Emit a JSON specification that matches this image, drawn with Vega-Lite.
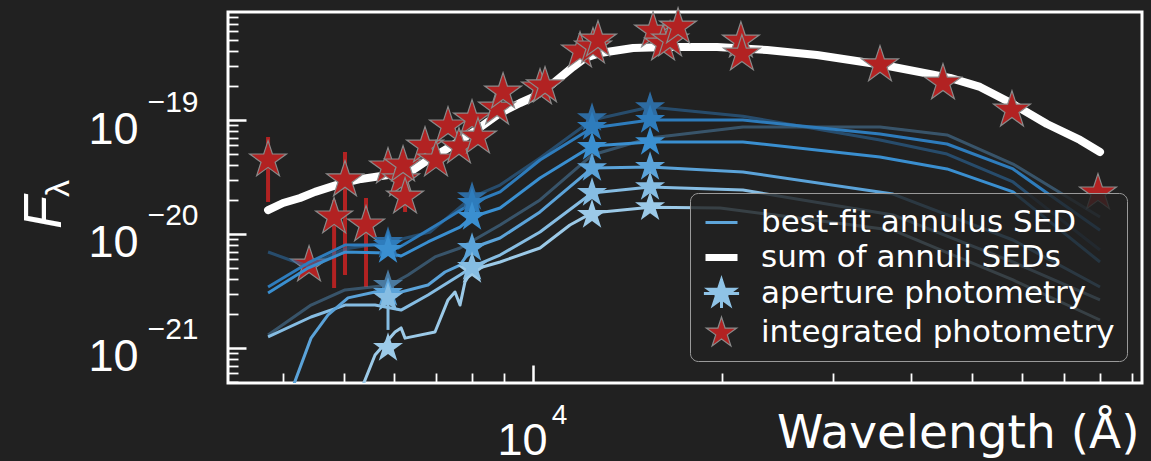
{
  "$schema": "https://vega.github.io/schema/vega-lite/v6.json",
  "width": 914,
  "height": 371,
  "autosize": "none",
  "padding": {"left": 228, "top": 12, "right": 9, "bottom": 78},
  "background": "#212121",
  "config": {
    "view": {"stroke": "#ffffff", "strokeWidth": 3, "fill": "#212121"},
    "font": "Liberation Sans",
    "axis": {"labelFont": "Liberation Sans", "titleFont": "Liberation Sans"}
  },
  "datasets": {
    "sum": [
      {"wl": 3785, "f": 1.62e-20}, {"wl": 3999, "f": 1.87e-20}, {"wl": 4256, "f": 2.07e-20},
      {"wl": 4497, "f": 2.34e-20}, {"wl": 4929, "f": 2.75e-20}, {"wl": 5323, "f": 3.04e-20},
      {"wl": 5876, "f": 3.29e-20}, {"wl": 6440, "f": 3.64e-20}, {"wl": 6804, "f": 4.46e-20},
      {"wl": 7376, "f": 5.80e-20}, {"wl": 8084, "f": 8.01e-20}, {"wl": 8862, "f": 1.15e-19},
      {"wl": 9535, "f": 1.41e-19}, {"wl": 10000, "f": 1.59e-19}, {"wl": 10450, "f": 1.83e-19},
      {"wl": 10920, "f": 2.24e-19}, {"wl": 11580, "f": 2.92e-19}, {"wl": 12100, "f": 3.50e-19},
      {"wl": 12790, "f": 3.87e-19}, {"wl": 14430, "f": 4.28e-19}, {"wl": 16350, "f": 4.37e-19},
      {"wl": 19640, "f": 4.37e-19}, {"wl": 23590, "f": 4.11e-19}, {"wl": 28330, "f": 3.72e-19},
      {"wl": 36080, "f": 3.04e-19}, {"wl": 46130, "f": 2.34e-19}, {"wl": 51500, "f": 1.95e-19},
      {"wl": 58120, "f": 1.38e-19}, {"wl": 65830, "f": 9.22e-20}, {"wl": 74310, "f": 6.68e-20},
      {"wl": 79960, "f": 5.24e-20}
    ],
    "lines": [
      {"ann": "A", "wl": 3785, "f": 6.95e-21}, {"ann": "A", "wl": 4103, "f": 5.91e-21}, {"ann": "A", "wl": 4383, "f": 5.24e-21},
      {"ann": "A", "wl": 5019, "f": 7.39e-21}, {"ann": "A", "wl": 5920, "f": 8.51e-21}, {"ann": "A", "wl": 6854, "f": 1.04e-20},
      {"ann": "A", "wl": 7996, "f": 2.11e-20}, {"ann": "A", "wl": 8862, "f": 2.69e-20}, {"ann": "A", "wl": 10260, "f": 4.64e-20},
      {"ann": "A", "wl": 12415, "f": 1.0e-19}, {"ann": "A", "wl": 15360, "f": 1.3e-19}, {"ann": "A", "wl": 21590, "f": 1.08e-19},
      {"ann": "A", "wl": 35690, "f": 6.68e-20}, {"ann": "A", "wl": 45630, "f": 5.03e-20}, {"ann": "A", "wl": 58120, "f": 2.86e-20},
      {"ann": "A", "wl": 79960, "f": 7.24e-21},
      {"ann": "B", "wl": 3785, "f": 3.43e-21}, {"ann": "B", "wl": 4383, "f": 5.57e-21}, {"ann": "B", "wl": 5019, "f": 8.01e-21},
      {"ann": "B", "wl": 5603, "f": 8.01e-21}, {"ann": "B", "wl": 6096, "f": 7.54e-21}, {"ann": "B", "wl": 6488, "f": 9.22e-21},
      {"ann": "B", "wl": 7137, "f": 1.27e-20}, {"ann": "B", "wl": 7996, "f": 1.87e-20}, {"ann": "B", "wl": 8862, "f": 2.34e-20},
      {"ann": "B", "wl": 10260, "f": 4.46e-20}, {"ann": "B", "wl": 12415, "f": 8.51e-20}, {"ann": "B", "wl": 15360, "f": 1.0e-19},
      {"ann": "B", "wl": 21590, "f": 1.0e-19}, {"ann": "B", "wl": 35690, "f": 7.54e-20}, {"ann": "B", "wl": 45630, "f": 6.16e-20},
      {"ann": "B", "wl": 58120, "f": 3.72e-20}, {"ann": "B", "wl": 79960, "f": 1.08e-20},
      {"ann": "C", "wl": 3785, "f": 1.30e-21}, {"ann": "C", "wl": 4431, "f": 2.38e-21}, {"ann": "C", "wl": 5019, "f": 3.23e-21},
      {"ann": "C", "wl": 5920, "f": 3.57e-21}, {"ann": "C", "wl": 6324, "f": 4.37e-21}, {"ann": "C", "wl": 6981, "f": 6.29e-21},
      {"ann": "C", "wl": 7651, "f": 7.54e-21}, {"ann": "C", "wl": 8862, "f": 1.2e-20}, {"ann": "C", "wl": 10260, "f": 1.99e-20},
      {"ann": "C", "wl": 12415, "f": 4.93e-20}, {"ann": "C", "wl": 15360, "f": 6.95e-20}, {"ann": "C", "wl": 21590, "f": 8.68e-20},
      {"ann": "C", "wl": 35690, "f": 8.68e-20}, {"ann": "C", "wl": 45630, "f": 7.39e-20}, {"ann": "C", "wl": 58120, "f": 4.11e-20},
      {"ann": "C", "wl": 79960, "f": 1.41e-20},
      {"ann": "D", "wl": 3785, "f": 3.04e-21}, {"ann": "D", "wl": 4383, "f": 5.03e-21}, {"ann": "D", "wl": 5019, "f": 6.95e-21},
      {"ann": "D", "wl": 5876, "f": 6.81e-21}, {"ann": "D", "wl": 6164, "f": 6.41e-21}, {"ann": "D", "wl": 6804, "f": 8.51e-21},
      {"ann": "D", "wl": 7651, "f": 1.15e-20}, {"ann": "D", "wl": 7996, "f": 1.41e-20}, {"ann": "D", "wl": 8862, "f": 1.69e-20},
      {"ann": "D", "wl": 10260, "f": 3.10e-20}, {"ann": "D", "wl": 12415, "f": 5.91e-20}, {"ann": "D", "wl": 15360, "f": 6.41e-20},
      {"ann": "D", "wl": 21590, "f": 6.41e-20}, {"ann": "D", "wl": 35690, "f": 4.74e-20}, {"ann": "D", "wl": 45630, "f": 3.72e-20},
      {"ann": "D", "wl": 58120, "f": 2.34e-20}, {"ann": "D", "wl": 79960, "f": 5.68e-21},
      {"ann": "E", "wl": 3785, "f": 1.25e-21}, {"ann": "E", "wl": 4431, "f": 1.87e-21}, {"ann": "E", "wl": 5019, "f": 2.38e-21},
      {"ann": "E", "wl": 5603, "f": 2.38e-21}, {"ann": "E", "wl": 6164, "f": 2.15e-21}, {"ann": "E", "wl": 6804, "f": 2.92e-21},
      {"ann": "E", "wl": 7651, "f": 4.37e-21}, {"ann": "E", "wl": 7996, "f": 5.14e-21}, {"ann": "E", "wl": 8862, "f": 6.54e-21},
      {"ann": "E", "wl": 10260, "f": 1.04e-20}, {"ann": "E", "wl": 12415, "f": 2.29e-20}, {"ann": "E", "wl": 15360, "f": 2.58e-20},
      {"ann": "E", "wl": 21590, "f": 2.43e-20}, {"ann": "E", "wl": 37430, "f": 1.47e-20}, {"ann": "E", "wl": 58120, "f": 5.68e-21},
      {"ann": "E", "wl": 79960, "f": 2.64e-21},
      {"ann": "F", "wl": 4073, "f": 3.5e-22}, {"ann": "F", "wl": 4431, "f": 1.22e-21}, {"ann": "F", "wl": 4716, "f": 1.95e-21},
      {"ann": "F", "wl": 5075, "f": 2.75e-21}, {"ann": "F", "wl": 5603, "f": 3.10e-21}, {"ann": "F", "wl": 6164, "f": 3.10e-21},
      {"ann": "F", "wl": 6804, "f": 3.57e-21}, {"ann": "F", "wl": 7242, "f": 4.64e-21}, {"ann": "F", "wl": 7651, "f": 5.34e-21},
      {"ann": "F", "wl": 7996, "f": 7.54e-21}, {"ann": "F", "wl": 8862, "f": 9.22e-21}, {"ann": "F", "wl": 10260, "f": 1.56e-20},
      {"ann": "F", "wl": 12415, "f": 3.79e-20}, {"ann": "F", "wl": 15360, "f": 3.87e-20}, {"ann": "F", "wl": 21590, "f": 3.50e-20},
      {"ann": "F", "wl": 37430, "f": 2.24e-20}, {"ann": "F", "wl": 58120, "f": 8.86e-21}, {"ann": "F", "wl": 79960, "f": 3.43e-21},
      {"ann": "G", "wl": 5245, "f": 3.5e-22}, {"ann": "G", "wl": 5603, "f": 8.68e-22}, {"ann": "G", "wl": 6029, "f": 1.38e-21},
      {"ann": "G", "wl": 6164, "f": 1.50e-21}, {"ann": "G", "wl": 6255, "f": 1.22e-21}, {"ann": "G", "wl": 6981, "f": 1.38e-21},
      {"ann": "G", "wl": 7322, "f": 2.64e-21}, {"ann": "G", "wl": 7512, "f": 3.10e-21}, {"ann": "G", "wl": 7651, "f": 2.38e-21},
      {"ann": "G", "wl": 7792, "f": 3.79e-21}, {"ann": "G", "wl": 7996, "f": 4.83e-21}, {"ann": "G", "wl": 8862, "f": 5.68e-21},
      {"ann": "G", "wl": 10260, "f": 7.54e-21}, {"ann": "G", "wl": 11450, "f": 1.20e-20}, {"ann": "G", "wl": 12415, "f": 1.53e-20},
      {"ann": "G", "wl": 15360, "f": 1.72e-20}, {"ann": "G", "wl": 19860, "f": 1.69e-20}, {"ann": "G", "wl": 37430, "f": 1.08e-20},
      {"ann": "G", "wl": 58120, "f": 3.95e-21}, {"ann": "G", "wl": 79960, "f": 1.76e-21}
    ],
    "ap": [
      {"ann": "C", "wl": 5876, "f": 3.57e-21},
      {"ann": "A", "wl": 5876, "f": 8.51e-21}, {"ann": "A", "wl": 7996, "f": 2.11e-20}, {"ann": "A", "wl": 12415, "f": 1.04e-19}, {"ann": "A", "wl": 15360, "f": 1.30e-19},
      {"ann": "B", "wl": 5876, "f": 8.01e-21}, {"ann": "B", "wl": 7996, "f": 1.87e-20}, {"ann": "B", "wl": 12415, "f": 8.68e-20}, {"ann": "B", "wl": 15360, "f": 1.0e-19},
      {"ann": "D", "wl": 5876, "f": 7.24e-21}, {"ann": "D", "wl": 7996, "f": 1.41e-20}, {"ann": "D", "wl": 12415, "f": 5.80e-20}, {"ann": "D", "wl": 15360, "f": 6.41e-20},
      {"ann": "F", "wl": 5876, "f": 3.04e-21}, {"ann": "F", "wl": 7996, "f": 7.54e-21}, {"ann": "F", "wl": 12415, "f": 3.79e-20}, {"ann": "F", "wl": 15360, "f": 3.87e-20},
      {"ann": "G", "wl": 5876, "f": 1.0e-21}, {"ann": "G", "wl": 7996, "f": 4.83e-21}, {"ann": "G", "wl": 12415, "f": 1.47e-20}, {"ann": "G", "wl": 15360, "f": 1.72e-20},
      {"ann": "E", "wl": 5876, "f": 2.75e-21, "lo": 1.44e-21, "hi": 3.95e-21}, {"ann": "E", "wl": 7996, "f": 5.14e-21}, {"ann": "E", "wl": 12415, "f": 2.29e-20}, {"ann": "E", "wl": 15360, "f": 2.58e-20}
    ],
    "integ": [
      {"wl": 3785, "f": 4.46e-20, "lo": 1.91e-20, "hi": 7.09e-20},
      {"wl": 4399, "f": 5.34e-21},
      {"wl": 4822, "f": 1.41e-20, "lo": 3.36e-21, "hi": 1.99e-20},
      {"wl": 5019, "f": 2.98e-20, "lo": 4.37e-21, "hi": 5.24e-20},
      {"wl": 5421, "f": 1.20e-20, "lo": 3.43e-21, "hi": 2.07e-20},
      {"wl": 5876, "f": 3.87e-20},
      {"wl": 6164, "f": 2.98e-20},
      {"wl": 6209, "f": 4.03e-20},
      {"wl": 6255, "f": 2.11e-20, "lo": 1.56e-20, "hi": 2.43e-20},
      {"wl": 6730, "f": 5.91e-20},
      {"wl": 7007, "f": 4.46e-20, "lo": 3.79e-20, "hi": 5.46e-20},
      {"wl": 7322, "f": 8.86e-20},
      {"wl": 7623, "f": 5.80e-20},
      {"wl": 7996, "f": 1.02e-19},
      {"wl": 8173, "f": 7.09e-20, "lo": 6.03e-20, "hi": 8.17e-20},
      {"wl": 8765, "f": 1.27e-19},
      {"wl": 8960, "f": 1.76e-19},
      {"wl": 10260, "f": 1.91e-19},
      {"wl": 10450, "f": 1.99e-19},
      {"wl": 11880, "f": 4.03e-19},
      {"wl": 12460, "f": 4.37e-19},
      {"wl": 12690, "f": 5.03e-19},
      {"wl": 15530, "f": 6.03e-19},
      {"wl": 16110, "f": 4.64e-19},
      {"wl": 16530, "f": 5.03e-19},
      {"wl": 17020, "f": 6.54e-19},
      {"wl": 21430, "f": 4.93e-19},
      {"wl": 21510, "f": 3.79e-19},
      {"wl": 35690, "f": 3.04e-19},
      {"wl": 44960, "f": 2.11e-19},
      {"wl": 57900, "f": 1.22e-19},
      {"wl": 79370, "f": 2.29e-20}
    ],
    "legendrows": [
      {"type": "best-fit annulus SED"}, {"type": "sum of annuli SEDs"}, {"type": "aperture photometry"}, {"type": "integrated photometry"}
    ]
  },
  "layer": [
    {
      "data": {"name": "sum"},
      "mark": {"type": "line", "color": "#ffffff", "strokeWidth": 8, "strokeCap": "round", "strokeJoin": "round", "clip": true},
      "encoding": {
        "x": {
          "field": "wl", "type": "quantitative",
          "scale": {"type": "log", "domain": [3268, 93270], "nice": false},
          "axis": {
            "orient": "bottom", "zindex": 1, "domain": false, "grid": false,
            "values": [4000, 5000, 6000, 7000, 8000, 9000, 10000, 20000, 30000, 40000, 50000, 60000, 70000, 80000, 90000],
            "tickColor": "#ffffff",
            "tickSize": {"condition": {"test": "datum.value == 10000", "value": -18}, "value": -10},
            "tickWidth": {"condition": {"test": "datum.value == 10000", "value": 2.5}, "value": 1.8},
            "labelExpr": "datum.value == 10000 ? '10' : ''",
            "labelFontSize": 45, "labelColor": "#ffffff", "labelBaseline": "alphabetic",
            "labelPadding": 89, "labelOffset": -11, "labelFlush": false, "labelOverlap": false, "labelBound": false,
            "title": "Wavelength (Å)", "titleFont": "DejaVu Sans", "titleFontSize": 47, "titleFontWeight": "normal", "titleColor": "#ffffff",
            "titleAlign": "right", "titleBaseline": "alphabetic", "titleX": 911, "titleY": 64, "titleAnchor": "end"
          }
        },
        "y": {
          "field": "f", "type": "quantitative",
          "scale": {"type": "log", "domain": [4.93e-22, 8.86e-19], "nice": false},
          "axis": {
            "orient": "left", "zindex": 1, "domain": false, "grid": false,
            "values": [5e-22, 6e-22, 7e-22, 8e-22, 9e-22, 1e-21, 2e-21, 3e-21, 4e-21, 5e-21, 6e-21, 7e-21, 8e-21, 9e-21, 1e-20, 2e-20, 3e-20, 4e-20, 5e-20, 6e-20, 7e-20, 8e-20, 9e-20, 1e-19, 2e-19, 3e-19, 4e-19, 5e-19, 6e-19, 7e-19, 8e-19],
            "tickColor": "#ffffff",
            "tickSize": {"condition": {"test": "abs(log(datum.value)/LN10 - round(log(datum.value)/LN10)) < 0.01", "value": -18}, "value": -10},
            "tickWidth": {"condition": {"test": "abs(log(datum.value)/LN10 - round(log(datum.value)/LN10)) < 0.01", "value": 2.5}, "value": 1.8},
            "labelExpr": "abs(log(datum.value)/LN10 - round(log(datum.value)/LN10)) < 0.01 ? '10' : ''",
            "labelFontSize": 45, "labelColor": "#ffffff", "labelBaseline": "middle", "labelAlign": "right",
            "labelPadding": 108, "labelOffset": 9, "labelFlush": false, "labelOverlap": false, "labelBound": false,
            "title": "F", "titleFontSize": 54, "titleFontStyle": "italic", "titleFontWeight": "normal", "titleColor": "#ffffff",
            "titleAngle": 270, "titleAlign": "center", "titleBaseline": "alphabetic", "titleX": -168, "titleY": 200
          }
        }
      }
    },
    {
      "data": {"name": "integ"},
      "transform": [{"filter": "isValid(datum.lo)"}],
      "mark": {"type": "rule", "color": "#b22222", "strokeWidth": 4},
      "encoding": {
        "x": {
          "field": "wl", "type": "quantitative",
          "scale": {"type": "log", "domain": [3268, 93270], "nice": false},
          "axis": {
            "orient": "bottom", "domain": false, "grid": false, "ticks": false,
            "values": [10000],
            "labelExpr": "'4'", "labelFontSize": 28, "labelColor": "#ffffff", "labelBaseline": "alphabetic",
            "labelPadding": 40, "labelOffset": 26, "labelFlush": false, "labelOverlap": false, "labelBound": false,
            "title": null
          }
        },
        "y": {
          "field": "lo", "type": "quantitative",
          "scale": {"type": "log", "domain": [4.93e-22, 8.86e-19], "nice": false},
          "axis": {
            "orient": "left", "domain": false, "grid": false, "ticks": false,
            "values": [1e-21, 1e-20, 1e-19],
            "labelExpr": "'−' + format(-round(log(datum.value)/LN10), 'd')",
            "labelFontSize": 30, "labelColor": "#ffffff", "labelBaseline": "middle", "labelAlign": "right",
            "labelPadding": 30, "labelOffset": -18, "labelFlush": false, "labelOverlap": false, "labelBound": false,
            "title": "λ", "titleFontSize": 34, "titleFontWeight": "normal", "titleColor": "#ffffff",
            "titleAngle": 270, "titleAlign": "center", "titleBaseline": "alphabetic", "titleX": -160, "titleY": 176
          }
        },
        "y2": {"field": "hi"}
      }
    },
    {
      "data": {"name": "integ"},
      "mark": {
        "type": "point", "filled": true, "opacity": 1, "size": 1500, "fill": "#b22222", "stroke": "#8a8a8a", "strokeWidth": 1.2,
        "shape": "M0,-1L0.2245,-0.309L0.9511,-0.309L0.3633,0.118L0.5878,0.809L0,0.382L-0.5878,0.809L-0.3633,0.118L-0.9511,-0.309L-0.2245,-0.309Z"
      },
      "encoding": {
        "x": {"field": "wl", "type": "quantitative", "scale": {"type": "log", "domain": [3268, 93270], "nice": false}, "axis": null},
        "y": {"field": "f", "type": "quantitative", "scale": {"type": "log", "domain": [4.93e-22, 8.86e-19], "nice": false}, "axis": null}
      }
    },
    {
      "data": {"name": "lines"},
      "transform": [{"filter": "datum.ann == 'A' || datum.ann == 'C'"}],
      "mark": {"type": "line", "strokeWidth": 3, "clip": true, "strokeJoin": "round", "strokeOpacity": 0.58},
      "encoding": {
        "x": {"field": "wl", "type": "quantitative", "scale": {"type": "log", "domain": [3268, 93270], "nice": false}, "axis": null},
        "y": {"field": "f", "type": "quantitative", "scale": {"type": "log", "domain": [4.93e-22, 8.86e-19], "nice": false}, "axis": null},
        "color": {
          "field": "ann", "type": "nominal", "legend": null,
          "scale": {"domain": ["A", "B", "C", "D", "E", "F", "G"], "range": ["#2d6ca3", "#2e7cbc", "#4a7aa0", "#3a8fd0", "#86bde3", "#5ba3d9", "#9ccae8"]}
        }
      }
    },
    {
      "data": {"name": "lines"},
      "transform": [{"filter": "datum.ann != 'A' && datum.ann != 'C'"}],
      "mark": {"type": "line", "strokeWidth": 3, "clip": true, "strokeJoin": "round"},
      "encoding": {
        "x": {"field": "wl", "type": "quantitative", "scale": {"type": "log", "domain": [3268, 93270], "nice": false}, "axis": null},
        "y": {"field": "f", "type": "quantitative", "scale": {"type": "log", "domain": [4.93e-22, 8.86e-19], "nice": false}, "axis": null},
        "color": {
          "field": "ann", "type": "nominal", "legend": null,
          "scale": {"domain": ["A", "B", "C", "D", "E", "F", "G"], "range": ["#2d6ca3", "#2e7cbc", "#4a7aa0", "#3a8fd0", "#86bde3", "#5ba3d9", "#9ccae8"]}
        }
      }
    },
    {
      "data": {"name": "ap"},
      "transform": [{"filter": "isValid(datum.lo)"}],
      "mark": {"type": "rule", "strokeWidth": 3},
      "encoding": {
        "x": {"field": "wl", "type": "quantitative", "scale": {"type": "log", "domain": [3268, 93270], "nice": false}, "axis": null},
        "y": {"field": "lo", "type": "quantitative", "scale": {"type": "log", "domain": [4.93e-22, 8.86e-19], "nice": false}, "axis": null},
        "y2": {"field": "hi"},
        "color": {
          "field": "ann", "type": "nominal", "legend": null,
          "scale": {"domain": ["A", "B", "C", "D", "E", "F", "G"], "range": ["#2d6ca3", "#2e7cbc", "#4a7aa0", "#3a8fd0", "#86bde3", "#5ba3d9", "#9ccae8"]}
        }
      }
    },
    {
      "data": {"name": "ap"},
      "mark": {
        "type": "point", "filled": true, "opacity": 1, "size": 1000, "strokeWidth": 0,
        "shape": "M0,-1L0.2245,-0.309L0.9511,-0.309L0.3633,0.118L0.5878,0.809L0,0.382L-0.5878,0.809L-0.3633,0.118L-0.9511,-0.309L-0.2245,-0.309Z"
      },
      "encoding": {
        "x": {"field": "wl", "type": "quantitative", "scale": {"type": "log", "domain": [3268, 93270], "nice": false}, "axis": null},
        "y": {"field": "f", "type": "quantitative", "scale": {"type": "log", "domain": [4.93e-22, 8.86e-19], "nice": false}, "axis": null},
        "color": {
          "field": "ann", "type": "nominal", "legend": null,
          "scale": {"domain": ["A", "B", "C", "D", "E", "F", "G"], "range": ["#2d6ca3", "#2e7cbc", "#4a7aa0", "#3a8fd0", "#86bde3", "#5ba3d9", "#9ccae8"]}
        }
      }
    },
    {
      "data": {"name": "legendrows"},
      "mark": {"type": "point", "filled": true, "opacity": 0},
      "encoding": {
        "fill": {
          "field": "type", "type": "nominal",
          "scale": {"domain": ["best-fit annulus SED", "sum of annuli SEDs", "aperture photometry", "integrated photometry"], "range": ["#5ea5da", "#ffffff", "#8fc3e6", "#b22222"]},
          "legend": {"orient": "none", "legendX": 462, "legendY": 181, "title": null, "fillColor": "rgba(33,33,33,0.82)", "strokeColor": "#9a9a9a", "cornerRadius": 8, "padding": 12, "labelFont": "DejaVu Sans", "labelFontSize": 31, "labelColor": "#ffffff", "labelOffset": 20, "labelLimit": 600, "symbolSize": 1024, "symbolOpacity": 1, "rowPadding": 0}
        },
        "stroke": {
          "field": "type", "type": "nominal",
          "scale": {"domain": ["best-fit annulus SED", "sum of annuli SEDs", "aperture photometry", "integrated photometry"], "range": ["#5ea5da", "#ffffff", "#8fc3e6", "#8a8a8a"]},
          "legend": {"orient": "none", "legendX": 462, "legendY": 181, "title": null, "fillColor": "rgba(33,33,33,0.82)", "strokeColor": "#9a9a9a", "cornerRadius": 8, "padding": 12, "labelFont": "DejaVu Sans", "labelFontSize": 31, "labelColor": "#ffffff", "labelOffset": 20, "labelLimit": 600, "symbolSize": 1024, "symbolOpacity": 1, "rowPadding": 0}
        },
        "shape": {
          "field": "type", "type": "nominal",
          "scale": {"domain": ["best-fit annulus SED", "sum of annuli SEDs", "aperture photometry", "integrated photometry"], "range": ["stroke", "stroke", "M0,-0.85L0.1908,-0.2627L0.8084,-0.2627L0.3088,0.1003L0.4996,0.6877L0,0.3247L-0.4996,0.6877L-0.3088,0.1003L-0.8084,-0.2627L-0.1908,-0.2627ZM-1.1,0L1.1,0M0,-0.9L0,0.9", "M0,-1L0.2245,-0.309L0.9511,-0.309L0.3633,0.118L0.5878,0.809L0,0.382L-0.5878,0.809L-0.3633,0.118L-0.9511,-0.309L-0.2245,-0.309Z"]},
          "legend": {"orient": "none", "legendX": 462, "legendY": 181, "title": null, "fillColor": "rgba(33,33,33,0.82)", "strokeColor": "#9a9a9a", "cornerRadius": 8, "padding": 12, "labelFont": "DejaVu Sans", "labelFontSize": 31, "labelColor": "#ffffff", "labelOffset": 20, "labelLimit": 600, "symbolSize": 1024, "symbolOpacity": 1, "rowPadding": 0}
        },
        "strokeWidth": {
          "field": "type", "type": "nominal",
          "scale": {"type": "ordinal", "domain": ["best-fit annulus SED", "sum of annuli SEDs", "aperture photometry", "integrated photometry"], "range": [3, 7, 3, 1.2]},
          "legend": {"orient": "none", "legendX": 462, "legendY": 181, "title": null, "fillColor": "rgba(33,33,33,0.82)", "strokeColor": "#9a9a9a", "cornerRadius": 8, "padding": 12, "labelFont": "DejaVu Sans", "labelFontSize": 31, "labelColor": "#ffffff", "labelOffset": 20, "labelLimit": 600, "symbolSize": 1024, "symbolOpacity": 1, "rowPadding": 0}
        }
      }
    }
  ],
  "resolve": {
    "axis": {"x": "independent", "y": "independent"}
  }
}
